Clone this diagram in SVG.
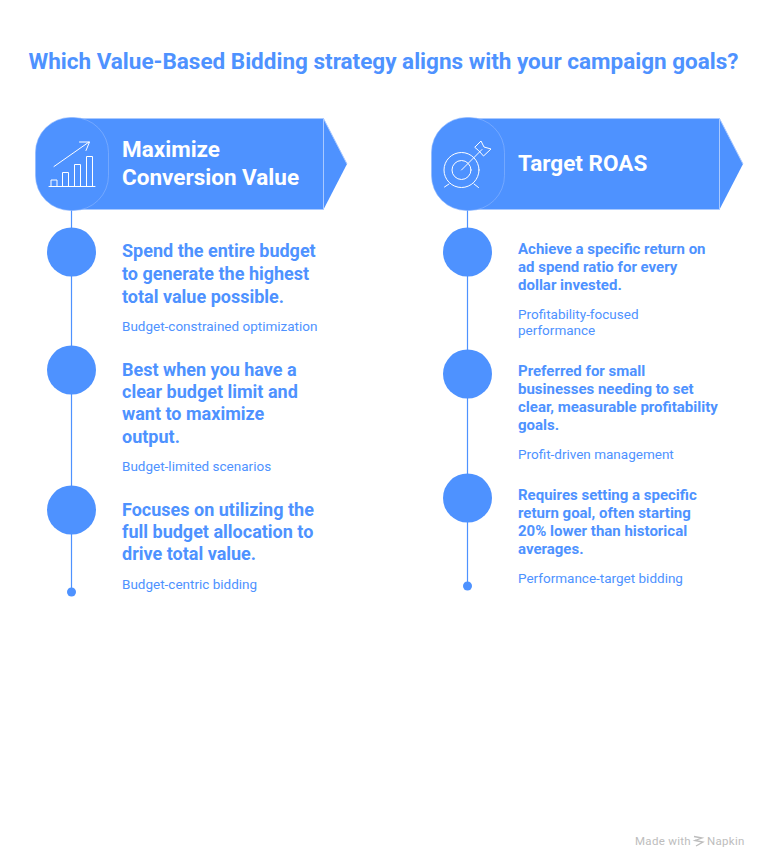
<svg xmlns="http://www.w3.org/2000/svg" width="768" height="868" viewBox="0 0 768 868">
<style>
text{font-family:Roboto,"Liberation Sans",sans-serif;fill:#4e92ff}
.title{font-size:22.500px;font-weight:700}
.head{font-size:22.500px;font-weight:700;fill:#fff}
.b1{font-size:18px;font-weight:700}
.b2{font-size:15px;font-weight:700}
.s{font-size:13.500px;font-weight:400}
.line{stroke:#4e92ff;stroke-width:1.200;fill:none}
.dot{fill:#4e92ff}
.ic{fill:none;stroke:#fff;stroke-width:1;stroke-linecap:round;stroke-linejoin:round}
.edge{fill:none;stroke:#a9c9ff;stroke-width:1}
.band{fill:#4e92ff}
.sq{fill:#4e92ff;stroke:#8db7ff;stroke-width:.6}
</style>
<rect width="768" height="868" fill="#fff"/>
<text id="title" class="title" x="383.500" y="68.500" text-anchor="middle">Which Value-Based Bidding strategy aligns with your campaign goals?</text>
<g id="connectors">
<path class="line" d="M71.500 210V591"/>
<path class="line" d="M467.500 210V585"/>
</g>
<g id="header-left">
<path class="band" d="M71 118.500H323.500L347 164 323.500 209.500H71Z"/>
<path class="edge" d="M71 118.500H323.500V209.500H71M323.500 118.500L347 164"/>
<rect class="sq" x="35.500" y="117.500" width="73" height="93" rx="35"/>
<path class="ic" d="M54 166.500L89 142M79.500 142H89.500L86 150.500M49 186.500H95M51 186V180H57V186M62.500 186V172.500H68.500V186M74.500 186V164.500H80.500V186M86.500 186V156.500H92.500V186"/>
<text class="head" x="122" y="157">Maximize</text>
<text class="head" x="122" y="185">Conversion Value</text>
</g>
<g id="header-right">
<path class="band" d="M467 118.500H719.500L743 164 719.500 209.500H467Z"/>
<path class="edge" d="M467 118.500H719.500V209.500H467M719.500 118.500L743 164"/>
<rect class="sq" x="431.500" y="117.500" width="73" height="93" rx="35"/>
<g class="ic">
<circle cx="461.500" cy="170" r="17.500"/><circle cx="461.500" cy="170" r="9.500"/>
<path d="M461.500 170L482 149.500M475 147L481 141 484 147 491 149 483.500 156 479 151ZM449 184L444.500 187M474 184L478.500 187.500"/>
</g>
<text class="head" x="518" y="171">Target ROAS</text>
</g>
<g id="left-1"><circle class="dot" cx="71.500" cy="252" r="24.500"/>
<text class="b1" x="122" y="257">Spend the entire budget</text><text class="b1" x="122" y="280">to generate the highest</text><text class="b1" x="122" y="303">total value possible.</text>
<text class="s" x="122" y="330.500">Budget-constrained optimization</text></g>
<g id="left-2"><circle class="dot" cx="71.500" cy="370" r="24.500"/>
<text class="b1" x="122" y="376">Best when you have a</text><text class="b1" x="122" y="398">clear budget limit and</text><text class="b1" x="122" y="420">want to maximize</text><text class="b1" x="122" y="443">output.</text>
<text class="s" x="122" y="470.500">Budget-limited scenarios</text></g>
<g id="left-3"><circle class="dot" cx="71.500" cy="510" r="24.500"/>
<text class="b1" x="122" y="516">Focuses on utilizing the</text><text class="b1" x="122" y="538">full budget allocation to</text><text class="b1" x="122" y="560">drive total value.</text>
<text class="s" x="122" y="588.500">Budget-centric bidding</text></g>
<circle class="dot" cx="71.500" cy="592" r="4.500"/>
<g id="right-1"><circle class="dot" cx="467.500" cy="252" r="24.500"/>
<text class="b2" x="518" y="254">Achieve a specific return on</text><text class="b2" x="518" y="272">ad spend ratio for every</text><text class="b2" x="518" y="290">dollar invested.</text>
<text class="s" x="518" y="318.500">Profitability-focused</text><text class="s" x="518" y="334.500">performance</text></g>
<g id="right-2"><circle class="dot" cx="467.500" cy="374" r="24.500"/>
<text class="b2" x="518" y="376">Preferred for small</text><text class="b2" x="518" y="394">businesses needing to set</text><text class="b2" x="518" y="412">clear, measurable profitability</text><text class="b2" x="518" y="430">goals.</text>
<text class="s" x="518" y="458.500">Profit-driven management</text></g>
<g id="right-3"><circle class="dot" cx="467.500" cy="498" r="24.500"/>
<text class="b2" x="518" y="500">Requires setting a specific</text><text class="b2" x="518" y="518">return goal, often starting</text><text class="b2" x="518" y="536">20% lower than historical</text><text class="b2" x="518" y="554">averages.</text>
<text class="s" x="518" y="582.500">Performance-target bidding</text></g>
<circle class="dot" cx="467.500" cy="586" r="4.500"/>
<g id="brand">
<text x="635" y="845" style="font-size:11.500px;fill:#bdbdbd;letter-spacing:.3px">Made with</text>
<path d="M694 836.500L702 838 695 840.500 703 842 696 846" fill="none" stroke="#bdbdbd" stroke-width="1.300"/>
<text x="707" y="845" style="font-size:11.500px;fill:#bdbdbd;letter-spacing:.3px">Napkin</text>
</g>
</svg>
